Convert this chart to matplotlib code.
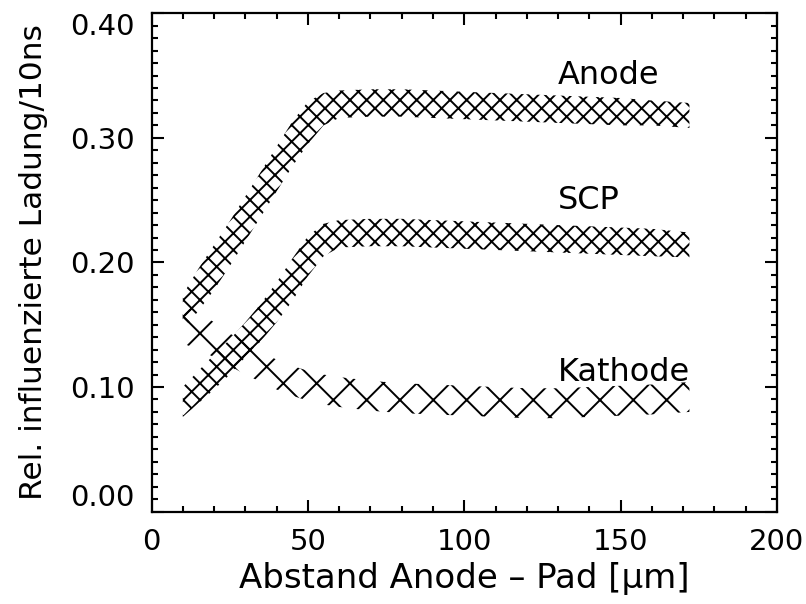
import numpy as np
import matplotlib
matplotlib.use("Agg")
import matplotlib.pyplot as plt
from matplotlib.ticker import MultipleLocator

# distance anode - pad [um]
abstand = [10, 15, 20, 25, 30, 35, 40, 45, 50, 55, 60, 70, 80, 90,
           100, 110, 120, 130, 140, 150, 160, 172]

anode = [0.160, 0.178, 0.196, 0.215, 0.235, 0.255, 0.275, 0.295, 0.312,
         0.323, 0.327, 0.328, 0.328, 0.327, 0.326, 0.325, 0.324, 0.323,
         0.322, 0.321, 0.320, 0.318]
anode_err = [0.014, 0.017, 0.018, 0.018, 0.018, 0.018, 0.018, 0.018, 0.017,
             0.013, 0.011, 0.011, 0.011, 0.011, 0.011, 0.011, 0.011, 0.011,
             0.011, 0.011, 0.010, 0.010]

scp = [0.088, 0.100, 0.112, 0.124, 0.138, 0.152, 0.168, 0.186, 0.205,
       0.218, 0.223, 0.224, 0.224, 0.223, 0.222, 0.221, 0.220, 0.219,
       0.218, 0.217, 0.216, 0.214]
scp_err = [0.012, 0.013, 0.014, 0.014, 0.014, 0.015, 0.016, 0.017, 0.016,
           0.013, 0.011, 0.011, 0.011, 0.011, 0.011, 0.011, 0.011, 0.011,
           0.011, 0.011, 0.011, 0.010]

kathode = [0.150, 0.145, 0.138, 0.130, 0.123, 0.116, 0.110, 0.105, 0.101,
           0.098, 0.096, 0.093, 0.091, 0.090, 0.089, 0.088, 0.087, 0.087,
           0.088, 0.089, 0.090, 0.092]
kathode_err = [0.015, 0.015, 0.014, 0.013, 0.013, 0.012, 0.012, 0.012, 0.012,
               0.012, 0.012, 0.012, 0.012, 0.012, 0.012, 0.012, 0.012, 0.012,
               0.012, 0.012, 0.012, 0.012]

labels = ["Anode", "SCP", "Kathode"]
label_pos = [(130, 0.350), (130, 0.250), (130, 0.112)]

xticks = [0, 50, 100, 150, 200]
yticks = [0.0, 0.1, 0.2, 0.3, 0.4]

plt.rcParams["hatch.linewidth"] = 1.4
plt.rcParams["hatch.color"] = "black"
plt.rcParams["font.family"] = "DejaVu Sans"

fig = plt.figure(figsize=(8.06, 6.04), dpi=100)
ax = fig.add_axes([0.188, 0.153, 0.776, 0.825])

x = np.array(abstand)
bands = [(anode, anode_err, "xx"), (scp, scp_err, "xx"), (kathode, kathode_err, "x")]
for y, err, h in bands:
    y = np.array(y); err = np.array(err)
    ax.fill_between(x, y - err, y + err, facecolor="none", edgecolor="black",
                    hatch=h, linewidth=0)

for txt, (tx, ty) in zip(labels, label_pos):
    ax.text(tx, ty, txt, fontsize=23, va="center", ha="left")

ax.set_xticks(xticks)
ax.set_yticks(yticks)
ax.set_yticklabels([f"{v:.2f}" for v in yticks])
ax.xaxis.set_minor_locator(MultipleLocator(10))
ax.yaxis.set_minor_locator(MultipleLocator(0.01))
ax.set_xlim(xticks[0], xticks[-1])
ax.set_ylim(yticks[0], yticks[-1])

ax.tick_params(which="both", direction="in", top=True, right=True,
               width=1.5, labelsize=21, pad=12)
ax.tick_params(which="major", length=8.6)
ax.tick_params(which="minor", length=4.4)
for s in ax.spines.values():
    s.set_linewidth(1.6)

# end labels sit inside the axis range like in IDL output
ylab = ax.get_yticklabels()
ylab[0].set_va("bottom")
ylab[-1].set_va("top")

ax.set_xlabel("Abstand Anode \u2013 Pad [\u03bcm]", fontsize=24.5, labelpad=4)
ax.set_ylabel("Rel. influenzierte Ladung/10ns", fontsize=22.5, labelpad=16)

fig.savefig("out.png", dpi=100)
